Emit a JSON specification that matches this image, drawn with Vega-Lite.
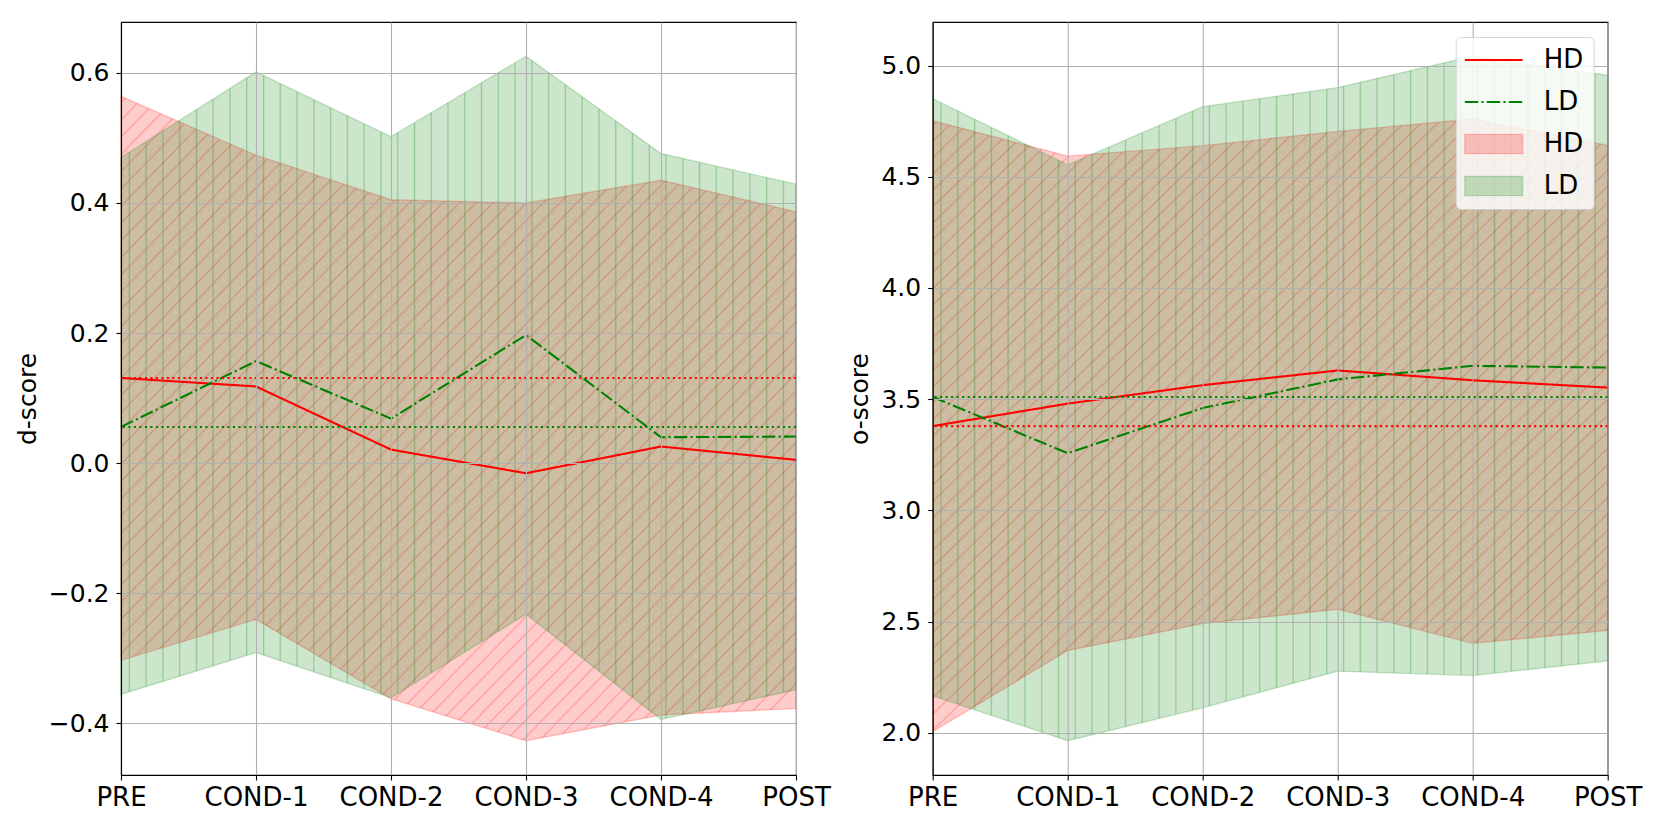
{
  "$schema": "https://vega.github.io/schema/vega-lite/v6.json",
  "background": "white",
  "padding": {"left": 14, "top": 21, "right": 0, "bottom": 0},
  "config": {
    "font": "DejaVu Sans",
    "view": {"stroke": "black", "strokeWidth": 1.1},
    "axis": {
      "grid": true, "gridColor": "#b0b0b0", "gridWidth": 1.1,
      "domainColor": "black", "domainWidth": 1.1,
      "tickColor": "black", "tickSize": 5, "tickWidth": 1.1,
      "labelColor": "black", "titleColor": "black",
      "titleFontWeight": "normal", "titleFontSize": 25
    }
  },
  "datasets": {
    "d": [
      {"cond": "PRE", "group": "HD", "mean": 0.131, "lo": -0.303, "hi": 0.564},
      {"cond": "COND-1", "group": "HD", "mean": 0.118, "lo": -0.240, "hi": 0.4735},
      {"cond": "COND-2", "group": "HD", "mean": 0.021, "lo": -0.362, "hi": 0.405},
      {"cond": "COND-3", "group": "HD", "mean": -0.0154, "lo": -0.4266, "hi": 0.400},
      {"cond": "COND-4", "group": "HD", "mean": 0.0257, "lo": -0.387, "hi": 0.435},
      {"cond": "POST", "group": "HD", "mean": 0.0052, "lo": -0.377, "hi": 0.3865},
      {"cond": "PRE", "group": "LD", "mean": 0.0558, "lo": -0.3554, "hi": 0.470},
      {"cond": "COND-1", "group": "LD", "mean": 0.157, "lo": -0.291, "hi": 0.6015},
      {"cond": "COND-2", "group": "LD", "mean": 0.0686, "lo": -0.3606, "hi": 0.502},
      {"cond": "COND-3", "group": "LD", "mean": 0.197, "lo": -0.232, "hi": 0.6256},
      {"cond": "COND-4", "group": "LD", "mean": 0.040, "lo": -0.394, "hi": 0.476},
      {"cond": "POST", "group": "LD", "mean": 0.041, "lo": -0.348, "hi": 0.429}
    ],
    "o": [
      {"cond": "PRE", "group": "HD", "mean": 3.379, "lo": 2.005, "hi": 4.752},
      {"cond": "COND-1", "group": "HD", "mean": 3.48, "lo": 2.370, "hi": 4.593},
      {"cond": "COND-2", "group": "HD", "mean": 3.563, "lo": 2.491, "hi": 4.64},
      {"cond": "COND-3", "group": "HD", "mean": 3.629, "lo": 2.555, "hi": 4.704},
      {"cond": "COND-4", "group": "HD", "mean": 3.585, "lo": 2.402, "hi": 4.76},
      {"cond": "POST", "group": "HD", "mean": 3.552, "lo": 2.46, "hi": 4.641},
      {"cond": "PRE", "group": "LD", "mean": 3.51, "lo": 2.166, "hi": 4.851},
      {"cond": "COND-1", "group": "LD", "mean": 3.257, "lo": 1.964, "hi": 4.554},
      {"cond": "COND-2", "group": "LD", "mean": 3.46, "lo": 2.112, "hi": 4.815},
      {"cond": "COND-3", "group": "LD", "mean": 3.589, "lo": 2.277, "hi": 4.901},
      {"cond": "COND-4", "group": "LD", "mean": 3.650, "lo": 2.257, "hi": 5.042},
      {"cond": "POST", "group": "LD", "mean": 3.642, "lo": 2.323, "hi": 4.956}
    ]
  },
  "spacing": 136.7,
  "bounds": "flush",
  "resolve": {"scale": {"color": "independent", "y": "independent"}, "legend": {"color": "independent"}},
  "hconcat": [
    {
      "width": 675, "height": 753,
      "data": {"name": "d"},
      "layer": [
        {
          "transform": [{"filter": "datum.group == 'HD'"}],
          "mark": {"type": "area", "opacity": 1, "stroke": "red", "strokeOpacity": 0.2, "strokeWidth": 1.4,
            "fill": {"gradient": "linear", "x1": 0, "y1": 0, "x2": 1, "y2": 0.93, "stops": [
              {"offset": 0, "color": "rgba(255,0,0,0.2)"},
              {"offset": 0.0035, "color": "rgba(255,0,0,0.2)"}, {"offset": 0.0050, "color": "rgba(255,0,0,0.38)"}, {"offset": 0.0065, "color": "rgba(255,0,0,0.2)"},
              {"offset": 0.0168, "color": "rgba(255,0,0,0.2)"}, {"offset": 0.0183, "color": "rgba(255,0,0,0.38)"}, {"offset": 0.0198, "color": "rgba(255,0,0,0.2)"},
              {"offset": 0.0301, "color": "rgba(255,0,0,0.2)"}, {"offset": 0.0316, "color": "rgba(255,0,0,0.38)"}, {"offset": 0.0331, "color": "rgba(255,0,0,0.2)"},
              {"offset": 0.0435, "color": "rgba(255,0,0,0.2)"}, {"offset": 0.0450, "color": "rgba(255,0,0,0.38)"}, {"offset": 0.0465, "color": "rgba(255,0,0,0.2)"},
              {"offset": 0.0568, "color": "rgba(255,0,0,0.2)"}, {"offset": 0.0583, "color": "rgba(255,0,0,0.38)"}, {"offset": 0.0598, "color": "rgba(255,0,0,0.2)"},
              {"offset": 0.0701, "color": "rgba(255,0,0,0.2)"}, {"offset": 0.0716, "color": "rgba(255,0,0,0.38)"}, {"offset": 0.0731, "color": "rgba(255,0,0,0.2)"},
              {"offset": 0.0834, "color": "rgba(255,0,0,0.2)"}, {"offset": 0.0849, "color": "rgba(255,0,0,0.38)"}, {"offset": 0.0864, "color": "rgba(255,0,0,0.2)"},
              {"offset": 0.0967, "color": "rgba(255,0,0,0.2)"}, {"offset": 0.0982, "color": "rgba(255,0,0,0.38)"}, {"offset": 0.0997, "color": "rgba(255,0,0,0.2)"},
              {"offset": 0.1101, "color": "rgba(255,0,0,0.2)"}, {"offset": 0.1116, "color": "rgba(255,0,0,0.38)"}, {"offset": 0.1131, "color": "rgba(255,0,0,0.2)"},
              {"offset": 0.1234, "color": "rgba(255,0,0,0.2)"}, {"offset": 0.1249, "color": "rgba(255,0,0,0.38)"}, {"offset": 0.1264, "color": "rgba(255,0,0,0.2)"},
              {"offset": 0.1367, "color": "rgba(255,0,0,0.2)"}, {"offset": 0.1382, "color": "rgba(255,0,0,0.38)"}, {"offset": 0.1397, "color": "rgba(255,0,0,0.2)"},
              {"offset": 0.1500, "color": "rgba(255,0,0,0.2)"}, {"offset": 0.1515, "color": "rgba(255,0,0,0.38)"}, {"offset": 0.1530, "color": "rgba(255,0,0,0.2)"},
              {"offset": 0.1633, "color": "rgba(255,0,0,0.2)"}, {"offset": 0.1648, "color": "rgba(255,0,0,0.38)"}, {"offset": 0.1663, "color": "rgba(255,0,0,0.2)"},
              {"offset": 0.1767, "color": "rgba(255,0,0,0.2)"}, {"offset": 0.1782, "color": "rgba(255,0,0,0.38)"}, {"offset": 0.1797, "color": "rgba(255,0,0,0.2)"},
              {"offset": 0.1900, "color": "rgba(255,0,0,0.2)"}, {"offset": 0.1915, "color": "rgba(255,0,0,0.38)"}, {"offset": 0.1930, "color": "rgba(255,0,0,0.2)"},
              {"offset": 0.2033, "color": "rgba(255,0,0,0.2)"}, {"offset": 0.2048, "color": "rgba(255,0,0,0.38)"}, {"offset": 0.2063, "color": "rgba(255,0,0,0.2)"},
              {"offset": 0.2166, "color": "rgba(255,0,0,0.2)"}, {"offset": 0.2181, "color": "rgba(255,0,0,0.38)"}, {"offset": 0.2196, "color": "rgba(255,0,0,0.2)"},
              {"offset": 0.2299, "color": "rgba(255,0,0,0.2)"}, {"offset": 0.2314, "color": "rgba(255,0,0,0.38)"}, {"offset": 0.2329, "color": "rgba(255,0,0,0.2)"},
              {"offset": 0.2433, "color": "rgba(255,0,0,0.2)"}, {"offset": 0.2448, "color": "rgba(255,0,0,0.38)"}, {"offset": 0.2463, "color": "rgba(255,0,0,0.2)"},
              {"offset": 0.2566, "color": "rgba(255,0,0,0.2)"}, {"offset": 0.2581, "color": "rgba(255,0,0,0.38)"}, {"offset": 0.2596, "color": "rgba(255,0,0,0.2)"},
              {"offset": 0.2699, "color": "rgba(255,0,0,0.2)"}, {"offset": 0.2714, "color": "rgba(255,0,0,0.38)"}, {"offset": 0.2729, "color": "rgba(255,0,0,0.2)"},
              {"offset": 0.2832, "color": "rgba(255,0,0,0.2)"}, {"offset": 0.2847, "color": "rgba(255,0,0,0.38)"}, {"offset": 0.2862, "color": "rgba(255,0,0,0.2)"},
              {"offset": 0.2965, "color": "rgba(255,0,0,0.2)"}, {"offset": 0.2980, "color": "rgba(255,0,0,0.38)"}, {"offset": 0.2995, "color": "rgba(255,0,0,0.2)"},
              {"offset": 0.3099, "color": "rgba(255,0,0,0.2)"}, {"offset": 0.3114, "color": "rgba(255,0,0,0.38)"}, {"offset": 0.3129, "color": "rgba(255,0,0,0.2)"},
              {"offset": 0.3232, "color": "rgba(255,0,0,0.2)"}, {"offset": 0.3247, "color": "rgba(255,0,0,0.38)"}, {"offset": 0.3262, "color": "rgba(255,0,0,0.2)"},
              {"offset": 0.3365, "color": "rgba(255,0,0,0.2)"}, {"offset": 0.3380, "color": "rgba(255,0,0,0.38)"}, {"offset": 0.3395, "color": "rgba(255,0,0,0.2)"},
              {"offset": 0.3498, "color": "rgba(255,0,0,0.2)"}, {"offset": 0.3513, "color": "rgba(255,0,0,0.38)"}, {"offset": 0.3528, "color": "rgba(255,0,0,0.2)"},
              {"offset": 0.3631, "color": "rgba(255,0,0,0.2)"}, {"offset": 0.3646, "color": "rgba(255,0,0,0.38)"}, {"offset": 0.3661, "color": "rgba(255,0,0,0.2)"},
              {"offset": 0.3765, "color": "rgba(255,0,0,0.2)"}, {"offset": 0.3780, "color": "rgba(255,0,0,0.38)"}, {"offset": 0.3795, "color": "rgba(255,0,0,0.2)"},
              {"offset": 0.3898, "color": "rgba(255,0,0,0.2)"}, {"offset": 0.3913, "color": "rgba(255,0,0,0.38)"}, {"offset": 0.3928, "color": "rgba(255,0,0,0.2)"},
              {"offset": 0.4031, "color": "rgba(255,0,0,0.2)"}, {"offset": 0.4046, "color": "rgba(255,0,0,0.38)"}, {"offset": 0.4061, "color": "rgba(255,0,0,0.2)"},
              {"offset": 0.4164, "color": "rgba(255,0,0,0.2)"}, {"offset": 0.4179, "color": "rgba(255,0,0,0.38)"}, {"offset": 0.4194, "color": "rgba(255,0,0,0.2)"},
              {"offset": 0.4297, "color": "rgba(255,0,0,0.2)"}, {"offset": 0.4312, "color": "rgba(255,0,0,0.38)"}, {"offset": 0.4327, "color": "rgba(255,0,0,0.2)"},
              {"offset": 0.4431, "color": "rgba(255,0,0,0.2)"}, {"offset": 0.4446, "color": "rgba(255,0,0,0.38)"}, {"offset": 0.4461, "color": "rgba(255,0,0,0.2)"},
              {"offset": 0.4564, "color": "rgba(255,0,0,0.2)"}, {"offset": 0.4579, "color": "rgba(255,0,0,0.38)"}, {"offset": 0.4594, "color": "rgba(255,0,0,0.2)"},
              {"offset": 0.4697, "color": "rgba(255,0,0,0.2)"}, {"offset": 0.4712, "color": "rgba(255,0,0,0.38)"}, {"offset": 0.4727, "color": "rgba(255,0,0,0.2)"},
              {"offset": 0.4830, "color": "rgba(255,0,0,0.2)"}, {"offset": 0.4845, "color": "rgba(255,0,0,0.38)"}, {"offset": 0.4860, "color": "rgba(255,0,0,0.2)"},
              {"offset": 0.4963, "color": "rgba(255,0,0,0.2)"}, {"offset": 0.4978, "color": "rgba(255,0,0,0.38)"}, {"offset": 0.4993, "color": "rgba(255,0,0,0.2)"},
              {"offset": 0.5097, "color": "rgba(255,0,0,0.2)"}, {"offset": 0.5112, "color": "rgba(255,0,0,0.38)"}, {"offset": 0.5127, "color": "rgba(255,0,0,0.2)"},
              {"offset": 0.5230, "color": "rgba(255,0,0,0.2)"}, {"offset": 0.5245, "color": "rgba(255,0,0,0.38)"}, {"offset": 0.5260, "color": "rgba(255,0,0,0.2)"},
              {"offset": 0.5363, "color": "rgba(255,0,0,0.2)"}, {"offset": 0.5378, "color": "rgba(255,0,0,0.38)"}, {"offset": 0.5393, "color": "rgba(255,0,0,0.2)"},
              {"offset": 0.5496, "color": "rgba(255,0,0,0.2)"}, {"offset": 0.5511, "color": "rgba(255,0,0,0.38)"}, {"offset": 0.5526, "color": "rgba(255,0,0,0.2)"},
              {"offset": 0.5629, "color": "rgba(255,0,0,0.2)"}, {"offset": 0.5644, "color": "rgba(255,0,0,0.38)"}, {"offset": 0.5659, "color": "rgba(255,0,0,0.2)"},
              {"offset": 0.5763, "color": "rgba(255,0,0,0.2)"}, {"offset": 0.5778, "color": "rgba(255,0,0,0.38)"}, {"offset": 0.5793, "color": "rgba(255,0,0,0.2)"},
              {"offset": 0.5896, "color": "rgba(255,0,0,0.2)"}, {"offset": 0.5911, "color": "rgba(255,0,0,0.38)"}, {"offset": 0.5926, "color": "rgba(255,0,0,0.2)"},
              {"offset": 0.6029, "color": "rgba(255,0,0,0.2)"}, {"offset": 0.6044, "color": "rgba(255,0,0,0.38)"}, {"offset": 0.6059, "color": "rgba(255,0,0,0.2)"},
              {"offset": 0.6162, "color": "rgba(255,0,0,0.2)"}, {"offset": 0.6177, "color": "rgba(255,0,0,0.38)"}, {"offset": 0.6192, "color": "rgba(255,0,0,0.2)"},
              {"offset": 0.6295, "color": "rgba(255,0,0,0.2)"}, {"offset": 0.6310, "color": "rgba(255,0,0,0.38)"}, {"offset": 0.6325, "color": "rgba(255,0,0,0.2)"},
              {"offset": 0.6429, "color": "rgba(255,0,0,0.2)"}, {"offset": 0.6444, "color": "rgba(255,0,0,0.38)"}, {"offset": 0.6459, "color": "rgba(255,0,0,0.2)"},
              {"offset": 0.6562, "color": "rgba(255,0,0,0.2)"}, {"offset": 0.6577, "color": "rgba(255,0,0,0.38)"}, {"offset": 0.6592, "color": "rgba(255,0,0,0.2)"},
              {"offset": 0.6695, "color": "rgba(255,0,0,0.2)"}, {"offset": 0.6710, "color": "rgba(255,0,0,0.38)"}, {"offset": 0.6725, "color": "rgba(255,0,0,0.2)"},
              {"offset": 0.6828, "color": "rgba(255,0,0,0.2)"}, {"offset": 0.6843, "color": "rgba(255,0,0,0.38)"}, {"offset": 0.6858, "color": "rgba(255,0,0,0.2)"},
              {"offset": 0.6961, "color": "rgba(255,0,0,0.2)"}, {"offset": 0.6976, "color": "rgba(255,0,0,0.38)"}, {"offset": 0.6991, "color": "rgba(255,0,0,0.2)"},
              {"offset": 0.7095, "color": "rgba(255,0,0,0.2)"}, {"offset": 0.7110, "color": "rgba(255,0,0,0.38)"}, {"offset": 0.7125, "color": "rgba(255,0,0,0.2)"},
              {"offset": 0.7228, "color": "rgba(255,0,0,0.2)"}, {"offset": 0.7243, "color": "rgba(255,0,0,0.38)"}, {"offset": 0.7258, "color": "rgba(255,0,0,0.2)"},
              {"offset": 0.7361, "color": "rgba(255,0,0,0.2)"}, {"offset": 0.7376, "color": "rgba(255,0,0,0.38)"}, {"offset": 0.7391, "color": "rgba(255,0,0,0.2)"},
              {"offset": 0.7494, "color": "rgba(255,0,0,0.2)"}, {"offset": 0.7509, "color": "rgba(255,0,0,0.38)"}, {"offset": 0.7524, "color": "rgba(255,0,0,0.2)"},
              {"offset": 0.7627, "color": "rgba(255,0,0,0.2)"}, {"offset": 0.7642, "color": "rgba(255,0,0,0.38)"}, {"offset": 0.7657, "color": "rgba(255,0,0,0.2)"},
              {"offset": 0.7761, "color": "rgba(255,0,0,0.2)"}, {"offset": 0.7776, "color": "rgba(255,0,0,0.38)"}, {"offset": 0.7791, "color": "rgba(255,0,0,0.2)"},
              {"offset": 0.7894, "color": "rgba(255,0,0,0.2)"}, {"offset": 0.7909, "color": "rgba(255,0,0,0.38)"}, {"offset": 0.7924, "color": "rgba(255,0,0,0.2)"},
              {"offset": 0.8027, "color": "rgba(255,0,0,0.2)"}, {"offset": 0.8042, "color": "rgba(255,0,0,0.38)"}, {"offset": 0.8057, "color": "rgba(255,0,0,0.2)"},
              {"offset": 0.8160, "color": "rgba(255,0,0,0.2)"}, {"offset": 0.8175, "color": "rgba(255,0,0,0.38)"}, {"offset": 0.8190, "color": "rgba(255,0,0,0.2)"},
              {"offset": 0.8293, "color": "rgba(255,0,0,0.2)"}, {"offset": 0.8308, "color": "rgba(255,0,0,0.38)"}, {"offset": 0.8323, "color": "rgba(255,0,0,0.2)"},
              {"offset": 0.8427, "color": "rgba(255,0,0,0.2)"}, {"offset": 0.8442, "color": "rgba(255,0,0,0.38)"}, {"offset": 0.8457, "color": "rgba(255,0,0,0.2)"},
              {"offset": 0.8560, "color": "rgba(255,0,0,0.2)"}, {"offset": 0.8575, "color": "rgba(255,0,0,0.38)"}, {"offset": 0.8590, "color": "rgba(255,0,0,0.2)"},
              {"offset": 0.8693, "color": "rgba(255,0,0,0.2)"}, {"offset": 0.8708, "color": "rgba(255,0,0,0.38)"}, {"offset": 0.8723, "color": "rgba(255,0,0,0.2)"},
              {"offset": 0.8826, "color": "rgba(255,0,0,0.2)"}, {"offset": 0.8841, "color": "rgba(255,0,0,0.38)"}, {"offset": 0.8856, "color": "rgba(255,0,0,0.2)"},
              {"offset": 0.8959, "color": "rgba(255,0,0,0.2)"}, {"offset": 0.8974, "color": "rgba(255,0,0,0.38)"}, {"offset": 0.8989, "color": "rgba(255,0,0,0.2)"},
              {"offset": 0.9093, "color": "rgba(255,0,0,0.2)"}, {"offset": 0.9108, "color": "rgba(255,0,0,0.38)"}, {"offset": 0.9123, "color": "rgba(255,0,0,0.2)"},
              {"offset": 0.9226, "color": "rgba(255,0,0,0.2)"}, {"offset": 0.9241, "color": "rgba(255,0,0,0.38)"}, {"offset": 0.9256, "color": "rgba(255,0,0,0.2)"},
              {"offset": 0.9359, "color": "rgba(255,0,0,0.2)"}, {"offset": 0.9374, "color": "rgba(255,0,0,0.38)"}, {"offset": 0.9389, "color": "rgba(255,0,0,0.2)"},
              {"offset": 0.9492, "color": "rgba(255,0,0,0.2)"}, {"offset": 0.9507, "color": "rgba(255,0,0,0.38)"}, {"offset": 0.9522, "color": "rgba(255,0,0,0.2)"},
              {"offset": 0.9625, "color": "rgba(255,0,0,0.2)"}, {"offset": 0.9640, "color": "rgba(255,0,0,0.38)"}, {"offset": 0.9655, "color": "rgba(255,0,0,0.2)"},
              {"offset": 0.9759, "color": "rgba(255,0,0,0.2)"}, {"offset": 0.9774, "color": "rgba(255,0,0,0.38)"}, {"offset": 0.9789, "color": "rgba(255,0,0,0.2)"},
              {"offset": 0.9892, "color": "rgba(255,0,0,0.2)"}, {"offset": 0.9907, "color": "rgba(255,0,0,0.38)"}, {"offset": 0.9922, "color": "rgba(255,0,0,0.2)"},
              {"offset": 1, "color": "rgba(255,0,0,0.2)"}
            ]}},
          "encoding": {
            "x": {"field": "cond", "type": "ordinal", "sort": null,
              "scale": {"type": "point", "padding": 0, "domain": ["PRE", "COND-1", "COND-2", "COND-3", "COND-4", "POST"]},
              "axis": {"title": null, "labelAngle": 0, "labelFontSize": 26, "labelPadding": 4, "zindex": 1}},
            "y": {"field": "lo", "type": "quantitative", "title": "d-score",
              "scale": {"domain": [-0.4792, 0.6782], "nice": false, "zero": false},
              "axis": {"values": [-0.4, -0.2, 0, 0.2, 0.4, 0.6], "format": ".1f", "labelFontSize": 25, "labelPadding": 7, "titlePadding": 8, "zindex": 1}},
            "y2": {"field": "hi"}
          }
        },
        {
          "transform": [{"filter": "datum.group == 'LD'"}],
          "mark": {"type": "area", "opacity": 1, "stroke": "green", "strokeOpacity": 0.2, "strokeWidth": 1.4,
            "fill": {"gradient": "linear", "x1": 0, "y1": 0, "x2": 1, "y2": 0, "stops": [
              {"offset": 0, "color": "rgba(0,128,0,0.2)"},
              {"offset": 0.0105, "color": "rgba(0,128,0,0.2)"}, {"offset": 0.0124, "color": "rgba(0,128,0,0.42)"}, {"offset": 0.0143, "color": "rgba(0,128,0,0.2)"},
              {"offset": 0.0353, "color": "rgba(0,128,0,0.2)"}, {"offset": 0.0372, "color": "rgba(0,128,0,0.42)"}, {"offset": 0.0391, "color": "rgba(0,128,0,0.2)"},
              {"offset": 0.0602, "color": "rgba(0,128,0,0.2)"}, {"offset": 0.0621, "color": "rgba(0,128,0,0.42)"}, {"offset": 0.0640, "color": "rgba(0,128,0,0.2)"},
              {"offset": 0.0850, "color": "rgba(0,128,0,0.2)"}, {"offset": 0.0869, "color": "rgba(0,128,0,0.42)"}, {"offset": 0.0888, "color": "rgba(0,128,0,0.2)"},
              {"offset": 0.1099, "color": "rgba(0,128,0,0.2)"}, {"offset": 0.1118, "color": "rgba(0,128,0,0.42)"}, {"offset": 0.1137, "color": "rgba(0,128,0,0.2)"},
              {"offset": 0.1347, "color": "rgba(0,128,0,0.2)"}, {"offset": 0.1366, "color": "rgba(0,128,0,0.42)"}, {"offset": 0.1385, "color": "rgba(0,128,0,0.2)"},
              {"offset": 0.1596, "color": "rgba(0,128,0,0.2)"}, {"offset": 0.1615, "color": "rgba(0,128,0,0.42)"}, {"offset": 0.1634, "color": "rgba(0,128,0,0.2)"},
              {"offset": 0.1844, "color": "rgba(0,128,0,0.2)"}, {"offset": 0.1863, "color": "rgba(0,128,0,0.42)"}, {"offset": 0.1882, "color": "rgba(0,128,0,0.2)"},
              {"offset": 0.2093, "color": "rgba(0,128,0,0.2)"}, {"offset": 0.2112, "color": "rgba(0,128,0,0.42)"}, {"offset": 0.2131, "color": "rgba(0,128,0,0.2)"},
              {"offset": 0.2341, "color": "rgba(0,128,0,0.2)"}, {"offset": 0.2360, "color": "rgba(0,128,0,0.42)"}, {"offset": 0.2379, "color": "rgba(0,128,0,0.2)"},
              {"offset": 0.2589, "color": "rgba(0,128,0,0.2)"}, {"offset": 0.2608, "color": "rgba(0,128,0,0.42)"}, {"offset": 0.2627, "color": "rgba(0,128,0,0.2)"},
              {"offset": 0.2838, "color": "rgba(0,128,0,0.2)"}, {"offset": 0.2857, "color": "rgba(0,128,0,0.42)"}, {"offset": 0.2876, "color": "rgba(0,128,0,0.2)"},
              {"offset": 0.3086, "color": "rgba(0,128,0,0.2)"}, {"offset": 0.3105, "color": "rgba(0,128,0,0.42)"}, {"offset": 0.3124, "color": "rgba(0,128,0,0.2)"},
              {"offset": 0.3335, "color": "rgba(0,128,0,0.2)"}, {"offset": 0.3354, "color": "rgba(0,128,0,0.42)"}, {"offset": 0.3373, "color": "rgba(0,128,0,0.2)"},
              {"offset": 0.3583, "color": "rgba(0,128,0,0.2)"}, {"offset": 0.3602, "color": "rgba(0,128,0,0.42)"}, {"offset": 0.3621, "color": "rgba(0,128,0,0.2)"},
              {"offset": 0.3832, "color": "rgba(0,128,0,0.2)"}, {"offset": 0.3851, "color": "rgba(0,128,0,0.42)"}, {"offset": 0.3870, "color": "rgba(0,128,0,0.2)"},
              {"offset": 0.4080, "color": "rgba(0,128,0,0.2)"}, {"offset": 0.4099, "color": "rgba(0,128,0,0.42)"}, {"offset": 0.4118, "color": "rgba(0,128,0,0.2)"},
              {"offset": 0.4329, "color": "rgba(0,128,0,0.2)"}, {"offset": 0.4348, "color": "rgba(0,128,0,0.42)"}, {"offset": 0.4367, "color": "rgba(0,128,0,0.2)"},
              {"offset": 0.4577, "color": "rgba(0,128,0,0.2)"}, {"offset": 0.4596, "color": "rgba(0,128,0,0.42)"}, {"offset": 0.4615, "color": "rgba(0,128,0,0.2)"},
              {"offset": 0.4825, "color": "rgba(0,128,0,0.2)"}, {"offset": 0.4844, "color": "rgba(0,128,0,0.42)"}, {"offset": 0.4863, "color": "rgba(0,128,0,0.2)"},
              {"offset": 0.5074, "color": "rgba(0,128,0,0.2)"}, {"offset": 0.5093, "color": "rgba(0,128,0,0.42)"}, {"offset": 0.5112, "color": "rgba(0,128,0,0.2)"},
              {"offset": 0.5322, "color": "rgba(0,128,0,0.2)"}, {"offset": 0.5341, "color": "rgba(0,128,0,0.42)"}, {"offset": 0.5360, "color": "rgba(0,128,0,0.2)"},
              {"offset": 0.5571, "color": "rgba(0,128,0,0.2)"}, {"offset": 0.5590, "color": "rgba(0,128,0,0.42)"}, {"offset": 0.5609, "color": "rgba(0,128,0,0.2)"},
              {"offset": 0.5819, "color": "rgba(0,128,0,0.2)"}, {"offset": 0.5838, "color": "rgba(0,128,0,0.42)"}, {"offset": 0.5857, "color": "rgba(0,128,0,0.2)"},
              {"offset": 0.6068, "color": "rgba(0,128,0,0.2)"}, {"offset": 0.6087, "color": "rgba(0,128,0,0.42)"}, {"offset": 0.6106, "color": "rgba(0,128,0,0.2)"},
              {"offset": 0.6316, "color": "rgba(0,128,0,0.2)"}, {"offset": 0.6335, "color": "rgba(0,128,0,0.42)"}, {"offset": 0.6354, "color": "rgba(0,128,0,0.2)"},
              {"offset": 0.6564, "color": "rgba(0,128,0,0.2)"}, {"offset": 0.6583, "color": "rgba(0,128,0,0.42)"}, {"offset": 0.6602, "color": "rgba(0,128,0,0.2)"},
              {"offset": 0.6813, "color": "rgba(0,128,0,0.2)"}, {"offset": 0.6832, "color": "rgba(0,128,0,0.42)"}, {"offset": 0.6851, "color": "rgba(0,128,0,0.2)"},
              {"offset": 0.7061, "color": "rgba(0,128,0,0.2)"}, {"offset": 0.7080, "color": "rgba(0,128,0,0.42)"}, {"offset": 0.7099, "color": "rgba(0,128,0,0.2)"},
              {"offset": 0.7310, "color": "rgba(0,128,0,0.2)"}, {"offset": 0.7329, "color": "rgba(0,128,0,0.42)"}, {"offset": 0.7348, "color": "rgba(0,128,0,0.2)"},
              {"offset": 0.7558, "color": "rgba(0,128,0,0.2)"}, {"offset": 0.7577, "color": "rgba(0,128,0,0.42)"}, {"offset": 0.7596, "color": "rgba(0,128,0,0.2)"},
              {"offset": 0.7807, "color": "rgba(0,128,0,0.2)"}, {"offset": 0.7826, "color": "rgba(0,128,0,0.42)"}, {"offset": 0.7845, "color": "rgba(0,128,0,0.2)"},
              {"offset": 0.8055, "color": "rgba(0,128,0,0.2)"}, {"offset": 0.8074, "color": "rgba(0,128,0,0.42)"}, {"offset": 0.8093, "color": "rgba(0,128,0,0.2)"},
              {"offset": 0.8304, "color": "rgba(0,128,0,0.2)"}, {"offset": 0.8323, "color": "rgba(0,128,0,0.42)"}, {"offset": 0.8342, "color": "rgba(0,128,0,0.2)"},
              {"offset": 0.8552, "color": "rgba(0,128,0,0.2)"}, {"offset": 0.8571, "color": "rgba(0,128,0,0.42)"}, {"offset": 0.8590, "color": "rgba(0,128,0,0.2)"},
              {"offset": 0.8800, "color": "rgba(0,128,0,0.2)"}, {"offset": 0.8819, "color": "rgba(0,128,0,0.42)"}, {"offset": 0.8838, "color": "rgba(0,128,0,0.2)"},
              {"offset": 0.9049, "color": "rgba(0,128,0,0.2)"}, {"offset": 0.9068, "color": "rgba(0,128,0,0.42)"}, {"offset": 0.9087, "color": "rgba(0,128,0,0.2)"},
              {"offset": 0.9297, "color": "rgba(0,128,0,0.2)"}, {"offset": 0.9316, "color": "rgba(0,128,0,0.42)"}, {"offset": 0.9335, "color": "rgba(0,128,0,0.2)"},
              {"offset": 0.9546, "color": "rgba(0,128,0,0.2)"}, {"offset": 0.9565, "color": "rgba(0,128,0,0.42)"}, {"offset": 0.9584, "color": "rgba(0,128,0,0.2)"},
              {"offset": 0.9794, "color": "rgba(0,128,0,0.2)"}, {"offset": 0.9813, "color": "rgba(0,128,0,0.42)"}, {"offset": 0.9832, "color": "rgba(0,128,0,0.2)"},
              {"offset": 1, "color": "rgba(0,128,0,0.2)"}
            ]}},
          "encoding": {
            "x": {"field": "cond", "type": "ordinal", "sort": null},
            "y": {"field": "lo", "type": "quantitative"},
            "y2": {"field": "hi"}
          }
        },
        {
          "mark": {"type": "line", "strokeWidth": 2.1},
          "encoding": {
            "x": {"field": "cond", "type": "ordinal", "sort": null},
            "y": {"field": "mean", "type": "quantitative"},
            "color": {"field": "group", "type": "nominal", "scale": {"domain": ["HD", "LD"], "range": ["red", "green"]}, "legend": null},
            "strokeDash": {"field": "group", "type": "nominal", "scale": {"domain": ["HD", "LD"], "range": [[1, 0], [13.3, 3.3, 2.1, 3.3]]}, "legend": null}
          }
        },
        {
          "transform": [{"filter": "datum.cond == 'PRE'"}],
          "mark": {"type": "rule", "strokeWidth": 2.1, "strokeDash": [2.1, 3.4]},
          "encoding": {
            "y": {"field": "mean", "type": "quantitative"},
            "color": {"field": "group", "type": "nominal"}
          }
        }
      ]
    },
    {
      "width": 675, "height": 753,
      "data": {"name": "o"},
      "layer": [
        {
          "transform": [{"filter": "datum.group == 'HD'"}],
          "mark": {"type": "area", "opacity": 1, "stroke": "red", "strokeOpacity": 0.2, "strokeWidth": 1.4,
            "fill": {"gradient": "linear", "x1": 0, "y1": 0, "x2": 1, "y2": 0.93, "stops": [
              {"offset": 0, "color": "rgba(255,0,0,0.2)"},
              {"offset": 0.0035, "color": "rgba(255,0,0,0.2)"}, {"offset": 0.0050, "color": "rgba(255,0,0,0.38)"}, {"offset": 0.0065, "color": "rgba(255,0,0,0.2)"},
              {"offset": 0.0168, "color": "rgba(255,0,0,0.2)"}, {"offset": 0.0183, "color": "rgba(255,0,0,0.38)"}, {"offset": 0.0198, "color": "rgba(255,0,0,0.2)"},
              {"offset": 0.0301, "color": "rgba(255,0,0,0.2)"}, {"offset": 0.0316, "color": "rgba(255,0,0,0.38)"}, {"offset": 0.0331, "color": "rgba(255,0,0,0.2)"},
              {"offset": 0.0435, "color": "rgba(255,0,0,0.2)"}, {"offset": 0.0450, "color": "rgba(255,0,0,0.38)"}, {"offset": 0.0465, "color": "rgba(255,0,0,0.2)"},
              {"offset": 0.0568, "color": "rgba(255,0,0,0.2)"}, {"offset": 0.0583, "color": "rgba(255,0,0,0.38)"}, {"offset": 0.0598, "color": "rgba(255,0,0,0.2)"},
              {"offset": 0.0701, "color": "rgba(255,0,0,0.2)"}, {"offset": 0.0716, "color": "rgba(255,0,0,0.38)"}, {"offset": 0.0731, "color": "rgba(255,0,0,0.2)"},
              {"offset": 0.0834, "color": "rgba(255,0,0,0.2)"}, {"offset": 0.0849, "color": "rgba(255,0,0,0.38)"}, {"offset": 0.0864, "color": "rgba(255,0,0,0.2)"},
              {"offset": 0.0967, "color": "rgba(255,0,0,0.2)"}, {"offset": 0.0982, "color": "rgba(255,0,0,0.38)"}, {"offset": 0.0997, "color": "rgba(255,0,0,0.2)"},
              {"offset": 0.1101, "color": "rgba(255,0,0,0.2)"}, {"offset": 0.1116, "color": "rgba(255,0,0,0.38)"}, {"offset": 0.1131, "color": "rgba(255,0,0,0.2)"},
              {"offset": 0.1234, "color": "rgba(255,0,0,0.2)"}, {"offset": 0.1249, "color": "rgba(255,0,0,0.38)"}, {"offset": 0.1264, "color": "rgba(255,0,0,0.2)"},
              {"offset": 0.1367, "color": "rgba(255,0,0,0.2)"}, {"offset": 0.1382, "color": "rgba(255,0,0,0.38)"}, {"offset": 0.1397, "color": "rgba(255,0,0,0.2)"},
              {"offset": 0.1500, "color": "rgba(255,0,0,0.2)"}, {"offset": 0.1515, "color": "rgba(255,0,0,0.38)"}, {"offset": 0.1530, "color": "rgba(255,0,0,0.2)"},
              {"offset": 0.1633, "color": "rgba(255,0,0,0.2)"}, {"offset": 0.1648, "color": "rgba(255,0,0,0.38)"}, {"offset": 0.1663, "color": "rgba(255,0,0,0.2)"},
              {"offset": 0.1767, "color": "rgba(255,0,0,0.2)"}, {"offset": 0.1782, "color": "rgba(255,0,0,0.38)"}, {"offset": 0.1797, "color": "rgba(255,0,0,0.2)"},
              {"offset": 0.1900, "color": "rgba(255,0,0,0.2)"}, {"offset": 0.1915, "color": "rgba(255,0,0,0.38)"}, {"offset": 0.1930, "color": "rgba(255,0,0,0.2)"},
              {"offset": 0.2033, "color": "rgba(255,0,0,0.2)"}, {"offset": 0.2048, "color": "rgba(255,0,0,0.38)"}, {"offset": 0.2063, "color": "rgba(255,0,0,0.2)"},
              {"offset": 0.2166, "color": "rgba(255,0,0,0.2)"}, {"offset": 0.2181, "color": "rgba(255,0,0,0.38)"}, {"offset": 0.2196, "color": "rgba(255,0,0,0.2)"},
              {"offset": 0.2299, "color": "rgba(255,0,0,0.2)"}, {"offset": 0.2314, "color": "rgba(255,0,0,0.38)"}, {"offset": 0.2329, "color": "rgba(255,0,0,0.2)"},
              {"offset": 0.2433, "color": "rgba(255,0,0,0.2)"}, {"offset": 0.2448, "color": "rgba(255,0,0,0.38)"}, {"offset": 0.2463, "color": "rgba(255,0,0,0.2)"},
              {"offset": 0.2566, "color": "rgba(255,0,0,0.2)"}, {"offset": 0.2581, "color": "rgba(255,0,0,0.38)"}, {"offset": 0.2596, "color": "rgba(255,0,0,0.2)"},
              {"offset": 0.2699, "color": "rgba(255,0,0,0.2)"}, {"offset": 0.2714, "color": "rgba(255,0,0,0.38)"}, {"offset": 0.2729, "color": "rgba(255,0,0,0.2)"},
              {"offset": 0.2832, "color": "rgba(255,0,0,0.2)"}, {"offset": 0.2847, "color": "rgba(255,0,0,0.38)"}, {"offset": 0.2862, "color": "rgba(255,0,0,0.2)"},
              {"offset": 0.2965, "color": "rgba(255,0,0,0.2)"}, {"offset": 0.2980, "color": "rgba(255,0,0,0.38)"}, {"offset": 0.2995, "color": "rgba(255,0,0,0.2)"},
              {"offset": 0.3099, "color": "rgba(255,0,0,0.2)"}, {"offset": 0.3114, "color": "rgba(255,0,0,0.38)"}, {"offset": 0.3129, "color": "rgba(255,0,0,0.2)"},
              {"offset": 0.3232, "color": "rgba(255,0,0,0.2)"}, {"offset": 0.3247, "color": "rgba(255,0,0,0.38)"}, {"offset": 0.3262, "color": "rgba(255,0,0,0.2)"},
              {"offset": 0.3365, "color": "rgba(255,0,0,0.2)"}, {"offset": 0.3380, "color": "rgba(255,0,0,0.38)"}, {"offset": 0.3395, "color": "rgba(255,0,0,0.2)"},
              {"offset": 0.3498, "color": "rgba(255,0,0,0.2)"}, {"offset": 0.3513, "color": "rgba(255,0,0,0.38)"}, {"offset": 0.3528, "color": "rgba(255,0,0,0.2)"},
              {"offset": 0.3631, "color": "rgba(255,0,0,0.2)"}, {"offset": 0.3646, "color": "rgba(255,0,0,0.38)"}, {"offset": 0.3661, "color": "rgba(255,0,0,0.2)"},
              {"offset": 0.3765, "color": "rgba(255,0,0,0.2)"}, {"offset": 0.3780, "color": "rgba(255,0,0,0.38)"}, {"offset": 0.3795, "color": "rgba(255,0,0,0.2)"},
              {"offset": 0.3898, "color": "rgba(255,0,0,0.2)"}, {"offset": 0.3913, "color": "rgba(255,0,0,0.38)"}, {"offset": 0.3928, "color": "rgba(255,0,0,0.2)"},
              {"offset": 0.4031, "color": "rgba(255,0,0,0.2)"}, {"offset": 0.4046, "color": "rgba(255,0,0,0.38)"}, {"offset": 0.4061, "color": "rgba(255,0,0,0.2)"},
              {"offset": 0.4164, "color": "rgba(255,0,0,0.2)"}, {"offset": 0.4179, "color": "rgba(255,0,0,0.38)"}, {"offset": 0.4194, "color": "rgba(255,0,0,0.2)"},
              {"offset": 0.4297, "color": "rgba(255,0,0,0.2)"}, {"offset": 0.4312, "color": "rgba(255,0,0,0.38)"}, {"offset": 0.4327, "color": "rgba(255,0,0,0.2)"},
              {"offset": 0.4431, "color": "rgba(255,0,0,0.2)"}, {"offset": 0.4446, "color": "rgba(255,0,0,0.38)"}, {"offset": 0.4461, "color": "rgba(255,0,0,0.2)"},
              {"offset": 0.4564, "color": "rgba(255,0,0,0.2)"}, {"offset": 0.4579, "color": "rgba(255,0,0,0.38)"}, {"offset": 0.4594, "color": "rgba(255,0,0,0.2)"},
              {"offset": 0.4697, "color": "rgba(255,0,0,0.2)"}, {"offset": 0.4712, "color": "rgba(255,0,0,0.38)"}, {"offset": 0.4727, "color": "rgba(255,0,0,0.2)"},
              {"offset": 0.4830, "color": "rgba(255,0,0,0.2)"}, {"offset": 0.4845, "color": "rgba(255,0,0,0.38)"}, {"offset": 0.4860, "color": "rgba(255,0,0,0.2)"},
              {"offset": 0.4963, "color": "rgba(255,0,0,0.2)"}, {"offset": 0.4978, "color": "rgba(255,0,0,0.38)"}, {"offset": 0.4993, "color": "rgba(255,0,0,0.2)"},
              {"offset": 0.5097, "color": "rgba(255,0,0,0.2)"}, {"offset": 0.5112, "color": "rgba(255,0,0,0.38)"}, {"offset": 0.5127, "color": "rgba(255,0,0,0.2)"},
              {"offset": 0.5230, "color": "rgba(255,0,0,0.2)"}, {"offset": 0.5245, "color": "rgba(255,0,0,0.38)"}, {"offset": 0.5260, "color": "rgba(255,0,0,0.2)"},
              {"offset": 0.5363, "color": "rgba(255,0,0,0.2)"}, {"offset": 0.5378, "color": "rgba(255,0,0,0.38)"}, {"offset": 0.5393, "color": "rgba(255,0,0,0.2)"},
              {"offset": 0.5496, "color": "rgba(255,0,0,0.2)"}, {"offset": 0.5511, "color": "rgba(255,0,0,0.38)"}, {"offset": 0.5526, "color": "rgba(255,0,0,0.2)"},
              {"offset": 0.5629, "color": "rgba(255,0,0,0.2)"}, {"offset": 0.5644, "color": "rgba(255,0,0,0.38)"}, {"offset": 0.5659, "color": "rgba(255,0,0,0.2)"},
              {"offset": 0.5763, "color": "rgba(255,0,0,0.2)"}, {"offset": 0.5778, "color": "rgba(255,0,0,0.38)"}, {"offset": 0.5793, "color": "rgba(255,0,0,0.2)"},
              {"offset": 0.5896, "color": "rgba(255,0,0,0.2)"}, {"offset": 0.5911, "color": "rgba(255,0,0,0.38)"}, {"offset": 0.5926, "color": "rgba(255,0,0,0.2)"},
              {"offset": 0.6029, "color": "rgba(255,0,0,0.2)"}, {"offset": 0.6044, "color": "rgba(255,0,0,0.38)"}, {"offset": 0.6059, "color": "rgba(255,0,0,0.2)"},
              {"offset": 0.6162, "color": "rgba(255,0,0,0.2)"}, {"offset": 0.6177, "color": "rgba(255,0,0,0.38)"}, {"offset": 0.6192, "color": "rgba(255,0,0,0.2)"},
              {"offset": 0.6295, "color": "rgba(255,0,0,0.2)"}, {"offset": 0.6310, "color": "rgba(255,0,0,0.38)"}, {"offset": 0.6325, "color": "rgba(255,0,0,0.2)"},
              {"offset": 0.6429, "color": "rgba(255,0,0,0.2)"}, {"offset": 0.6444, "color": "rgba(255,0,0,0.38)"}, {"offset": 0.6459, "color": "rgba(255,0,0,0.2)"},
              {"offset": 0.6562, "color": "rgba(255,0,0,0.2)"}, {"offset": 0.6577, "color": "rgba(255,0,0,0.38)"}, {"offset": 0.6592, "color": "rgba(255,0,0,0.2)"},
              {"offset": 0.6695, "color": "rgba(255,0,0,0.2)"}, {"offset": 0.6710, "color": "rgba(255,0,0,0.38)"}, {"offset": 0.6725, "color": "rgba(255,0,0,0.2)"},
              {"offset": 0.6828, "color": "rgba(255,0,0,0.2)"}, {"offset": 0.6843, "color": "rgba(255,0,0,0.38)"}, {"offset": 0.6858, "color": "rgba(255,0,0,0.2)"},
              {"offset": 0.6961, "color": "rgba(255,0,0,0.2)"}, {"offset": 0.6976, "color": "rgba(255,0,0,0.38)"}, {"offset": 0.6991, "color": "rgba(255,0,0,0.2)"},
              {"offset": 0.7095, "color": "rgba(255,0,0,0.2)"}, {"offset": 0.7110, "color": "rgba(255,0,0,0.38)"}, {"offset": 0.7125, "color": "rgba(255,0,0,0.2)"},
              {"offset": 0.7228, "color": "rgba(255,0,0,0.2)"}, {"offset": 0.7243, "color": "rgba(255,0,0,0.38)"}, {"offset": 0.7258, "color": "rgba(255,0,0,0.2)"},
              {"offset": 0.7361, "color": "rgba(255,0,0,0.2)"}, {"offset": 0.7376, "color": "rgba(255,0,0,0.38)"}, {"offset": 0.7391, "color": "rgba(255,0,0,0.2)"},
              {"offset": 0.7494, "color": "rgba(255,0,0,0.2)"}, {"offset": 0.7509, "color": "rgba(255,0,0,0.38)"}, {"offset": 0.7524, "color": "rgba(255,0,0,0.2)"},
              {"offset": 0.7627, "color": "rgba(255,0,0,0.2)"}, {"offset": 0.7642, "color": "rgba(255,0,0,0.38)"}, {"offset": 0.7657, "color": "rgba(255,0,0,0.2)"},
              {"offset": 0.7761, "color": "rgba(255,0,0,0.2)"}, {"offset": 0.7776, "color": "rgba(255,0,0,0.38)"}, {"offset": 0.7791, "color": "rgba(255,0,0,0.2)"},
              {"offset": 0.7894, "color": "rgba(255,0,0,0.2)"}, {"offset": 0.7909, "color": "rgba(255,0,0,0.38)"}, {"offset": 0.7924, "color": "rgba(255,0,0,0.2)"},
              {"offset": 0.8027, "color": "rgba(255,0,0,0.2)"}, {"offset": 0.8042, "color": "rgba(255,0,0,0.38)"}, {"offset": 0.8057, "color": "rgba(255,0,0,0.2)"},
              {"offset": 0.8160, "color": "rgba(255,0,0,0.2)"}, {"offset": 0.8175, "color": "rgba(255,0,0,0.38)"}, {"offset": 0.8190, "color": "rgba(255,0,0,0.2)"},
              {"offset": 0.8293, "color": "rgba(255,0,0,0.2)"}, {"offset": 0.8308, "color": "rgba(255,0,0,0.38)"}, {"offset": 0.8323, "color": "rgba(255,0,0,0.2)"},
              {"offset": 0.8427, "color": "rgba(255,0,0,0.2)"}, {"offset": 0.8442, "color": "rgba(255,0,0,0.38)"}, {"offset": 0.8457, "color": "rgba(255,0,0,0.2)"},
              {"offset": 0.8560, "color": "rgba(255,0,0,0.2)"}, {"offset": 0.8575, "color": "rgba(255,0,0,0.38)"}, {"offset": 0.8590, "color": "rgba(255,0,0,0.2)"},
              {"offset": 0.8693, "color": "rgba(255,0,0,0.2)"}, {"offset": 0.8708, "color": "rgba(255,0,0,0.38)"}, {"offset": 0.8723, "color": "rgba(255,0,0,0.2)"},
              {"offset": 0.8826, "color": "rgba(255,0,0,0.2)"}, {"offset": 0.8841, "color": "rgba(255,0,0,0.38)"}, {"offset": 0.8856, "color": "rgba(255,0,0,0.2)"},
              {"offset": 0.8959, "color": "rgba(255,0,0,0.2)"}, {"offset": 0.8974, "color": "rgba(255,0,0,0.38)"}, {"offset": 0.8989, "color": "rgba(255,0,0,0.2)"},
              {"offset": 0.9093, "color": "rgba(255,0,0,0.2)"}, {"offset": 0.9108, "color": "rgba(255,0,0,0.38)"}, {"offset": 0.9123, "color": "rgba(255,0,0,0.2)"},
              {"offset": 0.9226, "color": "rgba(255,0,0,0.2)"}, {"offset": 0.9241, "color": "rgba(255,0,0,0.38)"}, {"offset": 0.9256, "color": "rgba(255,0,0,0.2)"},
              {"offset": 0.9359, "color": "rgba(255,0,0,0.2)"}, {"offset": 0.9374, "color": "rgba(255,0,0,0.38)"}, {"offset": 0.9389, "color": "rgba(255,0,0,0.2)"},
              {"offset": 0.9492, "color": "rgba(255,0,0,0.2)"}, {"offset": 0.9507, "color": "rgba(255,0,0,0.38)"}, {"offset": 0.9522, "color": "rgba(255,0,0,0.2)"},
              {"offset": 0.9625, "color": "rgba(255,0,0,0.2)"}, {"offset": 0.9640, "color": "rgba(255,0,0,0.38)"}, {"offset": 0.9655, "color": "rgba(255,0,0,0.2)"},
              {"offset": 0.9759, "color": "rgba(255,0,0,0.2)"}, {"offset": 0.9774, "color": "rgba(255,0,0,0.38)"}, {"offset": 0.9789, "color": "rgba(255,0,0,0.2)"},
              {"offset": 0.9892, "color": "rgba(255,0,0,0.2)"}, {"offset": 0.9907, "color": "rgba(255,0,0,0.38)"}, {"offset": 0.9922, "color": "rgba(255,0,0,0.2)"},
              {"offset": 1, "color": "rgba(255,0,0,0.2)"}
            ]}},
          "encoding": {
            "x": {"field": "cond", "type": "ordinal", "sort": null,
              "scale": {"type": "point", "padding": 0, "domain": ["PRE", "COND-1", "COND-2", "COND-3", "COND-4", "POST"]},
              "axis": {"title": null, "labelAngle": 0, "labelFontSize": 26, "labelPadding": 4, "zindex": 1}},
            "y": {"field": "lo", "type": "quantitative", "title": "o-score",
              "scale": {"domain": [1.810, 5.196], "nice": false, "zero": false},
              "axis": {"values": [2.0, 2.5, 3.0, 3.5, 4.0, 4.5, 5.0], "format": ".1f", "labelFontSize": 25, "labelPadding": 7, "titlePadding": 8, "zindex": 1}},
            "y2": {"field": "hi"}
          }
        },
        {
          "transform": [{"filter": "datum.group == 'LD'"}],
          "mark": {"type": "area", "opacity": 1, "stroke": "green", "strokeOpacity": 0.2, "strokeWidth": 1.4,
            "fill": {"gradient": "linear", "x1": 0, "y1": 0, "x2": 1, "y2": 0, "stops": [
              {"offset": 0, "color": "rgba(0,128,0,0.2)"},
              {"offset": 0.0105, "color": "rgba(0,128,0,0.2)"}, {"offset": 0.0124, "color": "rgba(0,128,0,0.42)"}, {"offset": 0.0143, "color": "rgba(0,128,0,0.2)"},
              {"offset": 0.0353, "color": "rgba(0,128,0,0.2)"}, {"offset": 0.0372, "color": "rgba(0,128,0,0.42)"}, {"offset": 0.0391, "color": "rgba(0,128,0,0.2)"},
              {"offset": 0.0602, "color": "rgba(0,128,0,0.2)"}, {"offset": 0.0621, "color": "rgba(0,128,0,0.42)"}, {"offset": 0.0640, "color": "rgba(0,128,0,0.2)"},
              {"offset": 0.0850, "color": "rgba(0,128,0,0.2)"}, {"offset": 0.0869, "color": "rgba(0,128,0,0.42)"}, {"offset": 0.0888, "color": "rgba(0,128,0,0.2)"},
              {"offset": 0.1099, "color": "rgba(0,128,0,0.2)"}, {"offset": 0.1118, "color": "rgba(0,128,0,0.42)"}, {"offset": 0.1137, "color": "rgba(0,128,0,0.2)"},
              {"offset": 0.1347, "color": "rgba(0,128,0,0.2)"}, {"offset": 0.1366, "color": "rgba(0,128,0,0.42)"}, {"offset": 0.1385, "color": "rgba(0,128,0,0.2)"},
              {"offset": 0.1596, "color": "rgba(0,128,0,0.2)"}, {"offset": 0.1615, "color": "rgba(0,128,0,0.42)"}, {"offset": 0.1634, "color": "rgba(0,128,0,0.2)"},
              {"offset": 0.1844, "color": "rgba(0,128,0,0.2)"}, {"offset": 0.1863, "color": "rgba(0,128,0,0.42)"}, {"offset": 0.1882, "color": "rgba(0,128,0,0.2)"},
              {"offset": 0.2093, "color": "rgba(0,128,0,0.2)"}, {"offset": 0.2112, "color": "rgba(0,128,0,0.42)"}, {"offset": 0.2131, "color": "rgba(0,128,0,0.2)"},
              {"offset": 0.2341, "color": "rgba(0,128,0,0.2)"}, {"offset": 0.2360, "color": "rgba(0,128,0,0.42)"}, {"offset": 0.2379, "color": "rgba(0,128,0,0.2)"},
              {"offset": 0.2589, "color": "rgba(0,128,0,0.2)"}, {"offset": 0.2608, "color": "rgba(0,128,0,0.42)"}, {"offset": 0.2627, "color": "rgba(0,128,0,0.2)"},
              {"offset": 0.2838, "color": "rgba(0,128,0,0.2)"}, {"offset": 0.2857, "color": "rgba(0,128,0,0.42)"}, {"offset": 0.2876, "color": "rgba(0,128,0,0.2)"},
              {"offset": 0.3086, "color": "rgba(0,128,0,0.2)"}, {"offset": 0.3105, "color": "rgba(0,128,0,0.42)"}, {"offset": 0.3124, "color": "rgba(0,128,0,0.2)"},
              {"offset": 0.3335, "color": "rgba(0,128,0,0.2)"}, {"offset": 0.3354, "color": "rgba(0,128,0,0.42)"}, {"offset": 0.3373, "color": "rgba(0,128,0,0.2)"},
              {"offset": 0.3583, "color": "rgba(0,128,0,0.2)"}, {"offset": 0.3602, "color": "rgba(0,128,0,0.42)"}, {"offset": 0.3621, "color": "rgba(0,128,0,0.2)"},
              {"offset": 0.3832, "color": "rgba(0,128,0,0.2)"}, {"offset": 0.3851, "color": "rgba(0,128,0,0.42)"}, {"offset": 0.3870, "color": "rgba(0,128,0,0.2)"},
              {"offset": 0.4080, "color": "rgba(0,128,0,0.2)"}, {"offset": 0.4099, "color": "rgba(0,128,0,0.42)"}, {"offset": 0.4118, "color": "rgba(0,128,0,0.2)"},
              {"offset": 0.4329, "color": "rgba(0,128,0,0.2)"}, {"offset": 0.4348, "color": "rgba(0,128,0,0.42)"}, {"offset": 0.4367, "color": "rgba(0,128,0,0.2)"},
              {"offset": 0.4577, "color": "rgba(0,128,0,0.2)"}, {"offset": 0.4596, "color": "rgba(0,128,0,0.42)"}, {"offset": 0.4615, "color": "rgba(0,128,0,0.2)"},
              {"offset": 0.4825, "color": "rgba(0,128,0,0.2)"}, {"offset": 0.4844, "color": "rgba(0,128,0,0.42)"}, {"offset": 0.4863, "color": "rgba(0,128,0,0.2)"},
              {"offset": 0.5074, "color": "rgba(0,128,0,0.2)"}, {"offset": 0.5093, "color": "rgba(0,128,0,0.42)"}, {"offset": 0.5112, "color": "rgba(0,128,0,0.2)"},
              {"offset": 0.5322, "color": "rgba(0,128,0,0.2)"}, {"offset": 0.5341, "color": "rgba(0,128,0,0.42)"}, {"offset": 0.5360, "color": "rgba(0,128,0,0.2)"},
              {"offset": 0.5571, "color": "rgba(0,128,0,0.2)"}, {"offset": 0.5590, "color": "rgba(0,128,0,0.42)"}, {"offset": 0.5609, "color": "rgba(0,128,0,0.2)"},
              {"offset": 0.5819, "color": "rgba(0,128,0,0.2)"}, {"offset": 0.5838, "color": "rgba(0,128,0,0.42)"}, {"offset": 0.5857, "color": "rgba(0,128,0,0.2)"},
              {"offset": 0.6068, "color": "rgba(0,128,0,0.2)"}, {"offset": 0.6087, "color": "rgba(0,128,0,0.42)"}, {"offset": 0.6106, "color": "rgba(0,128,0,0.2)"},
              {"offset": 0.6316, "color": "rgba(0,128,0,0.2)"}, {"offset": 0.6335, "color": "rgba(0,128,0,0.42)"}, {"offset": 0.6354, "color": "rgba(0,128,0,0.2)"},
              {"offset": 0.6564, "color": "rgba(0,128,0,0.2)"}, {"offset": 0.6583, "color": "rgba(0,128,0,0.42)"}, {"offset": 0.6602, "color": "rgba(0,128,0,0.2)"},
              {"offset": 0.6813, "color": "rgba(0,128,0,0.2)"}, {"offset": 0.6832, "color": "rgba(0,128,0,0.42)"}, {"offset": 0.6851, "color": "rgba(0,128,0,0.2)"},
              {"offset": 0.7061, "color": "rgba(0,128,0,0.2)"}, {"offset": 0.7080, "color": "rgba(0,128,0,0.42)"}, {"offset": 0.7099, "color": "rgba(0,128,0,0.2)"},
              {"offset": 0.7310, "color": "rgba(0,128,0,0.2)"}, {"offset": 0.7329, "color": "rgba(0,128,0,0.42)"}, {"offset": 0.7348, "color": "rgba(0,128,0,0.2)"},
              {"offset": 0.7558, "color": "rgba(0,128,0,0.2)"}, {"offset": 0.7577, "color": "rgba(0,128,0,0.42)"}, {"offset": 0.7596, "color": "rgba(0,128,0,0.2)"},
              {"offset": 0.7807, "color": "rgba(0,128,0,0.2)"}, {"offset": 0.7826, "color": "rgba(0,128,0,0.42)"}, {"offset": 0.7845, "color": "rgba(0,128,0,0.2)"},
              {"offset": 0.8055, "color": "rgba(0,128,0,0.2)"}, {"offset": 0.8074, "color": "rgba(0,128,0,0.42)"}, {"offset": 0.8093, "color": "rgba(0,128,0,0.2)"},
              {"offset": 0.8304, "color": "rgba(0,128,0,0.2)"}, {"offset": 0.8323, "color": "rgba(0,128,0,0.42)"}, {"offset": 0.8342, "color": "rgba(0,128,0,0.2)"},
              {"offset": 0.8552, "color": "rgba(0,128,0,0.2)"}, {"offset": 0.8571, "color": "rgba(0,128,0,0.42)"}, {"offset": 0.8590, "color": "rgba(0,128,0,0.2)"},
              {"offset": 0.8800, "color": "rgba(0,128,0,0.2)"}, {"offset": 0.8819, "color": "rgba(0,128,0,0.42)"}, {"offset": 0.8838, "color": "rgba(0,128,0,0.2)"},
              {"offset": 0.9049, "color": "rgba(0,128,0,0.2)"}, {"offset": 0.9068, "color": "rgba(0,128,0,0.42)"}, {"offset": 0.9087, "color": "rgba(0,128,0,0.2)"},
              {"offset": 0.9297, "color": "rgba(0,128,0,0.2)"}, {"offset": 0.9316, "color": "rgba(0,128,0,0.42)"}, {"offset": 0.9335, "color": "rgba(0,128,0,0.2)"},
              {"offset": 0.9546, "color": "rgba(0,128,0,0.2)"}, {"offset": 0.9565, "color": "rgba(0,128,0,0.42)"}, {"offset": 0.9584, "color": "rgba(0,128,0,0.2)"},
              {"offset": 0.9794, "color": "rgba(0,128,0,0.2)"}, {"offset": 0.9813, "color": "rgba(0,128,0,0.42)"}, {"offset": 0.9832, "color": "rgba(0,128,0,0.2)"},
              {"offset": 1, "color": "rgba(0,128,0,0.2)"}
            ]}},
          "encoding": {
            "x": {"field": "cond", "type": "ordinal", "sort": null},
            "y": {"field": "lo", "type": "quantitative"},
            "y2": {"field": "hi"}
          }
        },
        {
          "mark": {"type": "line", "strokeWidth": 2.1},
          "encoding": {
            "x": {"field": "cond", "type": "ordinal", "sort": null},
            "y": {"field": "mean", "type": "quantitative"},
            "color": {"field": "group", "type": "nominal",
              "scale": {"domain": ["HD", "LD", "HD ", "LD "], "range": ["red", "green", "red", "green"]},
              "legend": {
                "orient": "top-right", "offset": 14.5, "title": null, "zindex": 2,
                "labelExpr": "trim(datum.label)", "labelFontSize": 26, "labelFont": "DejaVu Sans", "labelColor": "black",
                "symbolSize": 833, "padding": 10, "rowPadding": 16,
                "fillColor": "rgba(255,255,255,0.8)", "strokeColor": "rgba(204,204,204,0.8)", "cornerRadius": 5,
                "symbolOffset": 15, "labelOffset": 37,
                "encode": {
                  "symbols": {
                    "update": {
                      "shape": {"signal": "(datum.value == 'HD ' || datum.value == 'LD ') ? 'M-2,-0.67H2V0.67H-2Z' : 'M-2,0H2'"},
                      "fill": {"signal": "(datum.value == 'HD ' || datum.value == 'HD') ? 'red' : 'green'"},
                      "fillOpacity": {"signal": "(datum.value == 'HD ' || datum.value == 'LD ') ? 0.22 : 0"},
                      "stroke": {"signal": "(datum.value == 'HD ' || datum.value == 'HD') ? 'red' : 'green'"},
                      "strokeOpacity": {"signal": "(datum.value == 'HD ' || datum.value == 'LD ') ? 0.2 : 1"},
                      "strokeWidth": {"signal": "(datum.value == 'HD ' || datum.value == 'LD ') ? 1.4 : 2.1"},
                      "strokeDash": {"signal": "datum.value == 'LD' ? [13.3, 3.3, 2.1, 3.3] : [1, 0]"},
                      "opacity": {"value": 1}
                    }
                  }
                }
              }
            },
            "strokeDash": {"field": "group", "type": "nominal", "scale": {"domain": ["HD", "LD"], "range": [[1, 0], [13.3, 3.3, 2.1, 3.3]]}, "legend": null}
          }
        },
        {
          "transform": [{"filter": "datum.cond == 'PRE'"}],
          "mark": {"type": "rule", "strokeWidth": 2.1, "strokeDash": [2.1, 3.4]},
          "encoding": {
            "y": {"field": "mean", "type": "quantitative"},
            "color": {"field": "group", "type": "nominal"}
          }
        }
      ]
    }
  ]
}
